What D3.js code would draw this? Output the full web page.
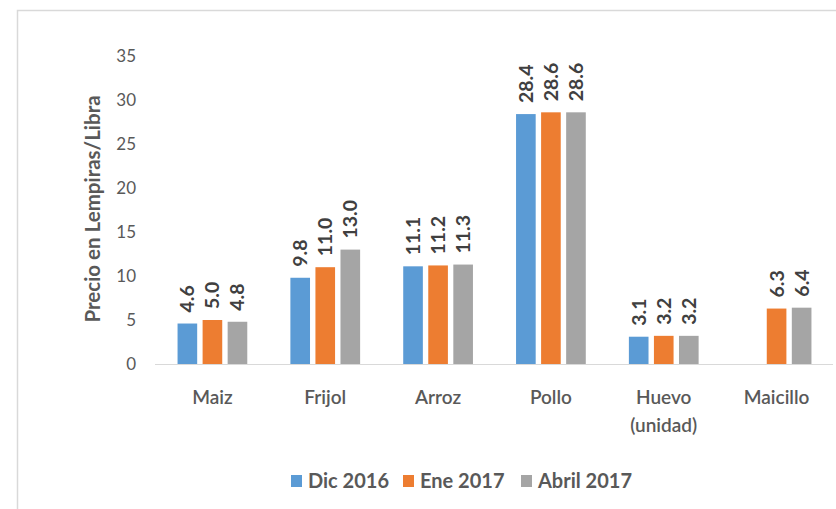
<!DOCTYPE html>
<html>
<head>
<meta charset="utf-8">
<script src="https://cdn.jsdelivr.net/npm/d3@7"></script>
<style>
  body { margin: 0; background: #fff; }
  svg { display: block; font-family: Lato, "Open Sans", sans-serif; }
</style>
</head>
<body>
<script>
const width = 836;
const height = 509;

const categories = ["Maiz", "Frijol", "Arroz", "Pollo", "Huevo (unidad)", "Maicillo"];
const seriesNames = ["Dic 2016", "Ene 2017", "Abril 2017"];
const dic2016 = [4.6, 9.8, 11.1, 28.4, 3.1, null];
const ene2017 = [5.0, 11.0, 11.2, 28.6, 3.2, 6.3];
const abril2017 = [4.8, 13.0, 11.3, 28.6, 3.2, 6.4];
const yTicks = [0, 5, 10, 15, 20, 25, 30, 35];
const colors = ["#5B9BD5", "#ED7D31", "#A5A5A5"];

const series = [dic2016, ene2017, abril2017];

const svg = d3.create("svg").attr("width", width).attr("height", height);

// outer frame
svg.append("rect")
  .attr("x", 17.5).attr("y", 10.5)
  .attr("width", 900).attr("height", 600)
  .attr("fill", "none")
  .attr("stroke", "#d9d9d9")
  .attr("stroke-width", 1.5);

const x = d3.scaleBand().domain(categories).range([156, 833]);
const y = d3.scaleLinear().domain([0, 35]).range([364, 56]);

const step = x.bandwidth();
const barW = step * 0.174;
const offset = step * 0.222;

// y tick labels
svg.append("g")
  .selectAll("text")
  .data(yTicks)
  .join("text")
  .attr("x", 136)
  .attr("y", (d) => y(d))
  .attr("dy", "0.36em")
  .attr("text-anchor", "end")
  .attr("font-size", 17)
  .attr("fill", "#595959")
  .text((d) => d);

// y axis title
svg.append("text")
  .attr("transform", `translate(100,${209}) rotate(-90)`)
  .attr("text-anchor", "middle")
  .attr("font-size", 20.5)
  .attr("font-weight", "bold")
  .attr("fill", "#595959")
  .text("Precio en Lempiras/Libra");

// bars
series.forEach((vals, si) => {
  const g = svg.append("g");
  const pts = categories
    .map((c, i) => ({ c, v: vals[i] }))
    .filter((d) => d.v != null);
  const cx = (d) => x(d.c) + step / 2 + (si - 1) * offset;

  g.selectAll("rect")
    .data(pts)
    .join("rect")
    .attr("x", (d) => cx(d) - barW / 2)
    .attr("y", (d) => y(d.v))
    .attr("width", barW)
    .attr("height", (d) => y(0) - y(d.v))
    .attr("fill", colors[si]);

  g.selectAll("text")
    .data(pts)
    .join("text")
    .attr("transform", (d) => `translate(${cx(d)},${y(d.v) - 11}) rotate(-90)`)
    .attr("dy", "0.36em")
    .attr("text-anchor", "start")
    .attr("font-size", 19.5)
    .attr("font-weight", "bold")
    .attr("fill", "#404040")
    .text((d) => d.v.toFixed(1));
});

// baseline
svg.append("line")
  .attr("x1", 155).attr("x2", 833)
  .attr("y1", y(0) + 0.5).attr("y2", y(0) + 0.5)
  .attr("stroke", "#d9d9d9")
  .attr("stroke-width", 1.2);

// category labels
const cat = svg.append("g")
  .selectAll("text")
  .data(categories)
  .join("text")
  .attr("x", (d) => x(d) + step / 2)
  .attr("y", 404)
  .attr("text-anchor", "middle")
  .attr("font-size", 19)
  .attr("font-weight", 600)
  .attr("fill", "#595959");

cat.each(function (d) {
  const parts = d.split(" ");
  const t = d3.select(this);
  parts.forEach((p, i) => {
    t.append("tspan")
      .attr("x", x(d) + step / 2)
      .attr("dy", i === 0 ? 0 : 28)
      .text(p);
  });
});

// legend
const legendX = [291, 403, 521];
const legend = svg.append("g")
  .selectAll("g")
  .data(seriesNames)
  .join("g")
  .attr("transform", (d, i) => `translate(${legendX[i]},481)`);

legend.append("rect")
  .attr("x", 0).attr("y", -6)
  .attr("width", 11).attr("height", 12)
  .attr("fill", (d, i) => colors[i]);

legend.append("text")
  .attr("x", 17)
  .attr("y", 0)
  .attr("dy", "0.36em")
  .attr("font-size", 20)
  .attr("font-weight", "bold")
  .attr("fill", "#595959")
  .text((d) => d);

document.body.appendChild(svg.node());
</script>
</body>
</html>
